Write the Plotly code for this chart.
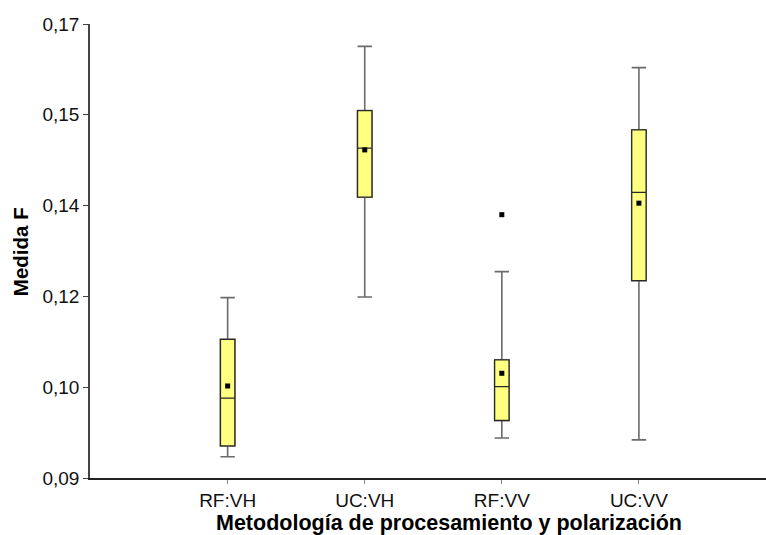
import plotly.graph_objects as go

categories = ["RF:VH", "UC:VH", "RF:VV", "UC:VV"]
lower_whisker = [0.0935, 0.1199, 0.0966, 0.0963]
q1 = [0.0953, 0.1364, 0.0995, 0.1226]
median = [0.1032, 0.1445, 0.1051, 0.1372]
q3 = [0.1129, 0.1507, 0.1095, 0.1475]
upper_whisker = [0.1198, 0.1613, 0.1241, 0.1578]
means = [0.1052, 0.1442, 0.1073, 0.1354]
outlier_cats = ["RF:VV"]
outlier_vals = [0.1335]

y_tickvals = [0.09, 0.105, 0.12, 0.135, 0.15, 0.165]
y_ticktext = ["0,09", "0,10", "0,12", "0,14", "0,15", "0,17"]

FILL = "#FFFF80"
fig = go.Figure()
# whiskers (gray)
fig.add_trace(go.Box(
    x=categories, q1=q1, median=median, q3=q3,
    lowerfence=lower_whisker, upperfence=upper_whisker,
    width=0.105, whiskerwidth=1, fillcolor=FILL,
    line=dict(color="#6b6b6b", width=1.6), showlegend=False, hoverinfo="skip",
))
# boxes (dark outline)
fig.add_trace(go.Box(
    x=categories, q1=q1, median=median, q3=q3,
    lowerfence=q1, upperfence=q3,
    width=0.105, whiskerwidth=1, fillcolor=FILL,
    line=dict(color="#2a2a2a", width=1.3), showlegend=False,
))
fig.add_trace(go.Scatter(
    x=categories, y=means, mode="markers",
    marker=dict(symbol="square", size=5, color="black"), showlegend=False,
))
fig.add_trace(go.Scatter(
    x=outlier_cats, y=outlier_vals, mode="markers",
    marker=dict(symbol="square", size=5, color="black"), showlegend=False,
))

font_family = "Liberation Sans, Arial, sans-serif"
fig.update_layout(
    width=766, height=535,
    margin=dict(l=90, r=0, t=24, b=57),
    paper_bgcolor="white", plot_bgcolor="white",
    boxmode="overlay",
    font=dict(family=font_family, size=19, color="#111111"),
    xaxis=dict(
        type="category", categoryorder="array", categoryarray=categories,
        range=[-1.004, 3.927],
        showline=True, linecolor="#222222", linewidth=1.6,
        ticks="outside", ticklen=4, tickcolor="#888888", tickwidth=1,
        showgrid=False, zeroline=False,
        tickfont=dict(size=19, color="#111111"),
    ),
    yaxis=dict(
        range=[0.09, 0.165],
        tickvals=y_tickvals, ticktext=y_ticktext,
        showline=True, linecolor="#444444", linewidth=1.6,
        ticks="outside", ticklen=5, tickcolor="#444444", tickwidth=1,
        showgrid=False, zeroline=False,
        tickfont=dict(size=19, color="#111111"),
    ),
    annotations=[
        dict(text="<b>Medida F</b>", textangle=-90, xref="paper", yref="paper",
             x=(20 - 90) / 676, y=(477.7 - 252) / 453.7, xanchor="center", yanchor="middle",
             showarrow=False, font=dict(size=20.5, color="black", family=font_family)),
        dict(text="<b>Metodología de procesamiento y polarización</b>", xref="paper", yref="paper",
             x=(449 - 90) / 676, y=-(509 - 477.7) / 453.7, xanchor="center", yanchor="top",
             showarrow=False, font=dict(size=21.5, color="black", family=font_family)),
    ],
)

fig.write_html("out.html")
